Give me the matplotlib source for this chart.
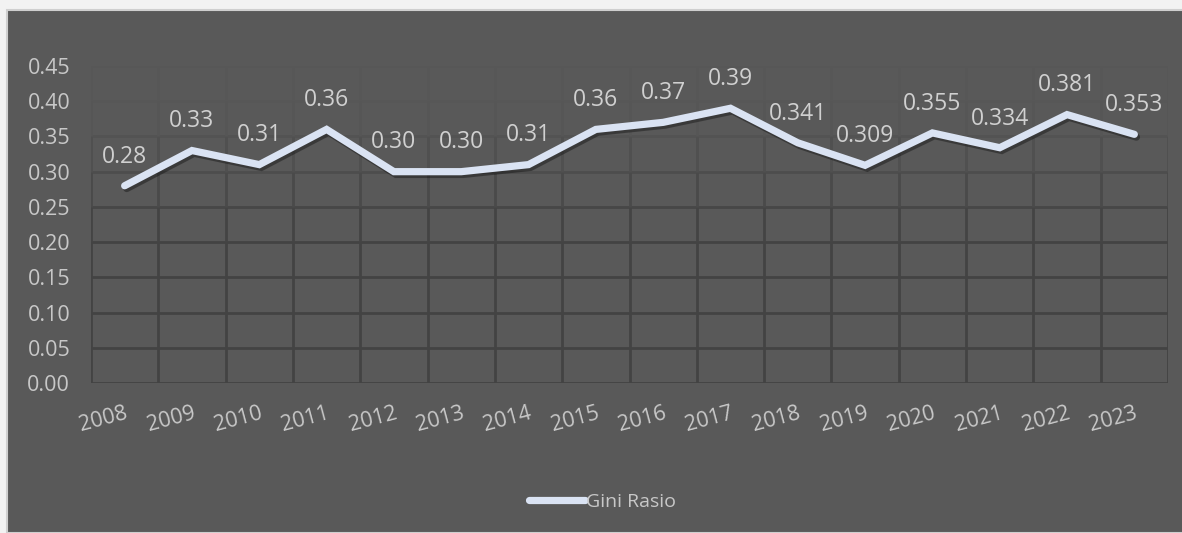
#!/usr/bin/env python3
import numpy as np
from matplotlib import pyplot as plt
from matplotlib.patches import Rectangle
import matplotlib.patheffects as pe

plt.rcParams['font.family'] = ['Open Sans', 'DejaVu Sans']

# data
years = ['2008', '2009', '2010', '2011', '2012', '2013', '2014', '2015',
         '2016', '2017', '2018', '2019', '2020', '2021', '2022', '2023']
gini = [0.28, 0.33, 0.31, 0.36, 0.30, 0.30, 0.31, 0.36,
        0.37, 0.39, 0.341, 0.309, 0.355, 0.334, 0.381, 0.353]
gini_labels = ['0.28', '0.33', '0.31', '0.36', '0.30', '0.30', '0.31', '0.36',
               '0.37', '0.39', '0.341', '0.309', '0.355', '0.334', '0.381', '0.353']
y_ticks = [0.00, 0.05, 0.10, 0.15, 0.20, 0.25, 0.30, 0.35, 0.40, 0.45]

bg = '#595959'
line_col = '#dae3f3'
tick_col = '#c8c8c8'
label_col = '#d0d0d0'

fig = plt.figure(figsize=(11.82, 5.33), dpi=100)
fig.patch.set_facecolor('#f2f2f2')
# dark panel (cropped chart area)
fig.patches.append(Rectangle((7 / 1182, 0), 1, 1 - 10 / 533, transform=fig.transFigure,
                             facecolor=bg, edgecolor='#cfcfcf', linewidth=1.5, zorder=-10))

ax = fig.add_axes([91 / 1182, 1 - 383 / 533, (1168 - 91) / 1182, (383 - 66) / 533])
ax.set_facecolor(bg)
ax.patch.set_alpha(0)
x = np.arange(len(years))
ax.set_xlim(-0.5, len(years) - 0.5)
ax.set_ylim(0, 0.45)


def grid_color(v):
    # gridlines fade out towards the top
    t = np.clip((v - 0.22) / 0.16, 0, 1)
    dark = np.array([0x43, 0x43, 0x43]) / 255
    light = np.array([0x57, 0x57, 0x57]) / 255
    return tuple(dark * (1 - t) + light * t)


for v in y_ticks:
    ax.axhline(v, color=grid_color(v), lw=2.0, zorder=1)
bounds = np.arange(-0.5, len(years), 1.0)
for lo, hi in zip(y_ticks[:-1], y_ticks[1:]):
    ax.vlines(bounds, lo, hi, colors=[grid_color((lo + hi) / 2)], lw=2.0, zorder=1)

for s in ax.spines.values():
    s.set_visible(False)

ax.plot(x, gini, color=line_col, lw=5.2, solid_capstyle='round', solid_joinstyle='miter',
        label='Gini Rasio', zorder=3,
        path_effects=[pe.SimpleLineShadow(offset=(1.5, -2), shadow_color='black', alpha=0.35),
                      pe.Normal()])

for xi, yi, lab in zip(x, gini, gini_labels):
    ax.annotate(lab, (xi, yi), xytext=(0, 21), textcoords='offset points',
                ha='center', va='center', color=label_col, fontsize=16.5,
                zorder=4)

ax.set_yticks(y_ticks)
ax.set_yticklabels(['%.2f' % v for v in y_ticks])
ax.set_xticks(x)
ax.set_xticklabels(years, rotation=15, ha='right', rotation_mode='anchor')
ax.tick_params(axis='both', length=0, colors=tick_col, labelsize=15.5)
ax.tick_params(axis='x', pad=14)
ax.tick_params(axis='y', pad=15)

leg = ax.legend(loc='center', bbox_to_anchor=(0.475, -0.375), frameon=False,
                handlelength=2.9, handletextpad=0.05, fontsize=14)
for t in leg.get_texts():
    t.set_color(tick_col)
for h in leg.get_lines():
    h.set_path_effects([])
    h.set_solid_capstyle('round')

plt.savefig('out.png', dpi=100, facecolor=fig.get_facecolor())
